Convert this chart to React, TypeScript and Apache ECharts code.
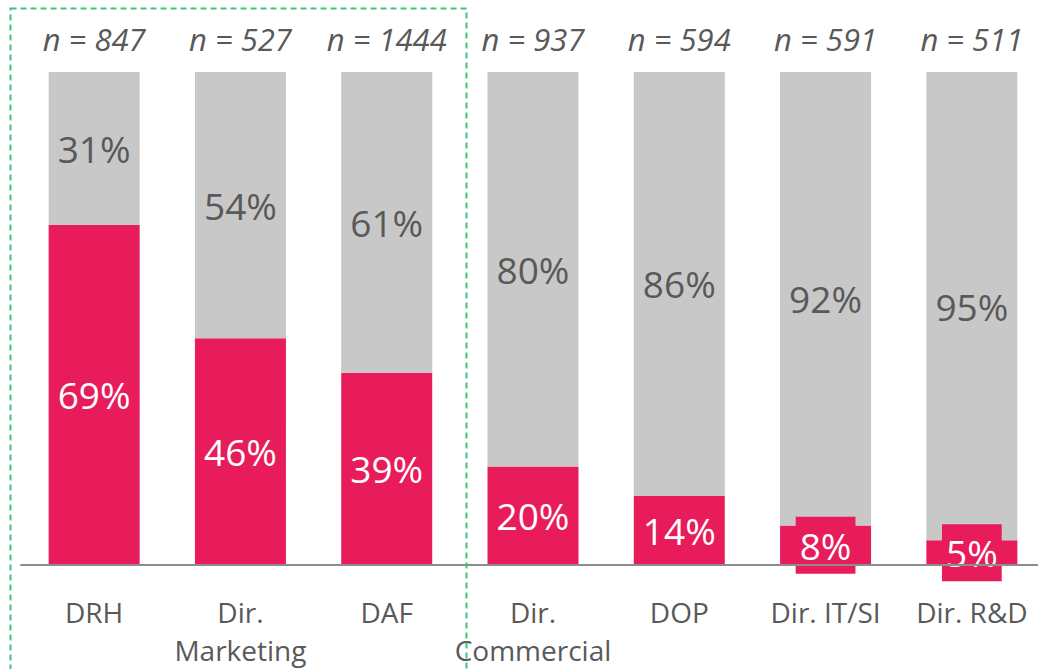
import React, { useEffect, useRef } from "react";
import * as echarts from "echarts";

const categories = ["DRH", "Dir.\nMarketing", "DAF", "Dir.\nCommercial", "DOP", "Dir. IT/SI", "Dir. R&D"];
const nLabels = ["n = 847", "n = 527", "n = 1444", "n = 937", "n = 594", "n = 591", "n = 511"];
const pinkValues = [69, 46, 39, 20, 14, 8, 5];
const grayValues = [31, 54, 61, 80, 86, 92, 95];

const PINK = "#E81C5A";
const GRAY = "#C8C8C8";
const TEXT = "#595959";
const FONT = "'Open Sans', 'Noto Sans', sans-serif";

export default function App() {
  const ref = useRef<HTMLDivElement>(null);
  useEffect(() => {
    if (!ref.current) return;
    const chart = echarts.init(ref.current, undefined, { renderer: "svg" });
    chart.setOption({
      animation: false,
      backgroundColor: "#ffffff",
      grid: { left: 21, top: 72, width: 1024, height: 493, containLabel: false },
      xAxis: [
        {
          type: "category",
          data: categories,
          position: "bottom",
          axisLine: { show: true, lineStyle: { color: "#8C8C8C", width: 2 } },
          axisTick: { show: false },
          axisLabel: {
            color: TEXT,
            fontSize: 28,
            fontFamily: FONT,
            lineHeight: 38,
            margin: 28,
            interval: 0,
          },
          z: 10,
        },
        {
          type: "category",
          data: nLabels,
          position: "top",
          axisLine: { show: false },
          axisTick: { show: false },
          axisLabel: {
            color: TEXT,
            fontSize: 31,
            fontStyle: "italic",
            fontFamily: FONT,
            margin: 18,
            interval: 0,
          },
        },
      ],
      yAxis: { type: "value", min: 0, max: 100, show: false },
      series: [
        {
          type: "bar",
          stack: "total",
          data: pinkValues,
          barWidth: 91,
          itemStyle: { color: PINK },
          label: {
            show: true,
            position: "inside",
            formatter: "{c}%",
            color: "#ffffff",
            fontSize: 37,
            fontFamily: FONT,
            backgroundColor: PINK,
            padding: [10, 4],
          },
        },
        {
          type: "bar",
          stack: "total",
          data: grayValues,
          barWidth: 91,
          itemStyle: { color: GRAY },
          label: {
            show: true,
            position: "inside",
            formatter: "{c}%",
            color: TEXT,
            fontSize: 37,
            fontFamily: FONT,
          },
        },
      ],
      graphic: [
        {
          type: "rect",
          shape: { x: 10.5, y: 8.5, width: 456, height: 720 },
          style: { fill: "none", stroke: "#3CC47C", lineWidth: 2, lineDash: [6, 4] },
          z: 100,
        },
      ],
    });
    return () => chart.dispose();
  }, []);
  return (
    <div style={{ position: "fixed", left: 0, top: 0, width: 1038, height: 669, overflow: "hidden" }}>
      <div ref={ref} style={{ width: 1050, height: 669 }} />
    </div>
  );
}
